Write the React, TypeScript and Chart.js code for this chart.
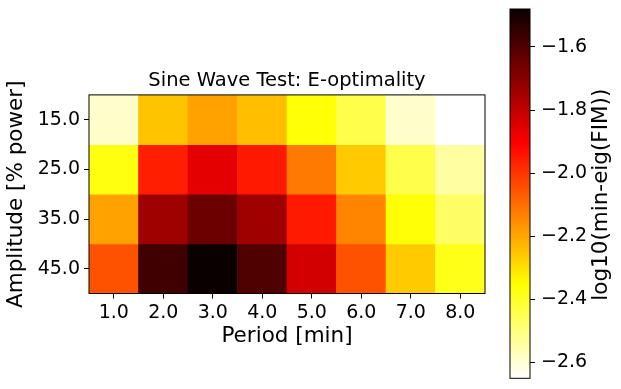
import React, { useEffect, useRef } from "react";
import { Chart, registerables } from "chart.js";
Chart.register(...registerables);

const periods = ["1.0", "2.0", "3.0", "4.0", "5.0", "6.0", "7.0", "8.0"];
const amplitudes = ["15.0", "25.0", "35.0", "45.0"];
const row15 = [-2.59, -2.25, -2.19, -2.24, -2.36, -2.44, -2.59, -2.65];
const row25 = [-2.37, -1.96, -1.86, -1.95, -2.12, -2.26, -2.44, -2.54];
const row35 = [-2.19, -1.74, -1.65, -1.74, -1.95, -2.14, -2.36, -2.47];
const row45 = [-2.05, -1.57, -1.48, -1.6, -1.83, -2.05, -2.26, -2.38];
const colorbarTicks = [-2.6, -2.4, -2.2, -2.0, -1.8, -1.6];
const titleText = "Sine Wave Test: E-optimality";
const xTitle = "Period [min]";
const yTitle = "Amplitude [% power]";
const cbTitle = "log10(min-eig(FIM))";

const FONT = "'DejaVu Sans', sans-serif";

function hot(s: number): [number, number, number] {
  const a = 0.365079, b = 0.746032;
  const r = s < a ? 0.0416 + (s / a) * (1 - 0.0416) : 1;
  const g = s < a ? 0 : s < b ? (s - a) / (b - a) : 1;
  const bl = s < b ? 0 : (s - b) / (1 - b);
  return [r, g, bl];
}
function hotR(t: number): string {
  const c = hot(1 - Math.max(0, Math.min(1, t)));
  return `rgb(${Math.round(c[0] * 255)},${Math.round(c[1] * 255)},${Math.round(c[2] * 255)})`;
}

export default function App() {
  const heatRef = useRef<HTMLCanvasElement | null>(null);
  const cbRef = useRef<HTMLCanvasElement | null>(null);

  useEffect(() => {
    const rows = [row15, row25, row35, row45];
    const all = rows.flat();
    const vmin = Math.min(...all);
    const vmax = Math.max(...all);

    const framePlugin = {
      id: "frame",
      afterDatasetsDraw(chart: any) {
        const { ctx, chartArea: a } = chart;
        ctx.save();
        ctx.strokeStyle = "#000";
        ctx.lineWidth = 1;
        ctx.strokeRect(a.left, a.top, a.right - a.left, a.bottom - a.top);
        ctx.restore();
      },
    };

    const heat = new Chart(heatRef.current as HTMLCanvasElement, {
      type: "bar",
      data: {
        labels: periods,
        datasets: rows.map((row, r) => ({
          data: row.map(() => [r, r + 1]),
          backgroundColor: row.map((v) => hotR((v - vmin) / (vmax - vmin))),
          borderWidth: 0,
          barPercentage: 1,
          categoryPercentage: 1,
          grouped: false,
        })) as any,
      },
      options: {
        animation: false,
        responsive: false,
        maintainAspectRatio: false,
        events: [],
        layout: { padding: { left: 0, top: 0, right: 136, bottom: 0 } },
        plugins: {
          legend: { display: false },
          tooltip: { enabled: false },
          title: {
            display: true,
            text: titleText,
            fullSize: false,
            color: "#000",
            font: { size: 19.5, weight: "normal", family: FONT },
            padding: { top: 69.5, bottom: 2 },
          },
        },
        scales: {
          x: {
            type: "category",
            offset: true,
            grid: {
              display: true,
              drawOnChartArea: false,
              drawTicks: true,
              tickLength: 5,
              tickColor: "#000",
              offset: false,
            },
            border: { display: false },
            ticks: { color: "#000", font: { size: 19, family: FONT }, padding: 3, maxRotation: 0 },
            title: {
              display: true,
              text: xTitle,
              color: "#000",
              font: { size: 21.5, family: FONT },
              padding: { top: 0, bottom: 40 },
            },
            afterFit: (s: any) => {
              s.height = 95.5;
              s.paddingLeft = 0;
              s.paddingRight = 0;
            },
          },
          y: {
            type: "linear",
            min: 0,
            max: amplitudes.length,
            reverse: true,
            afterBuildTicks: (s: any) => {
              s.ticks = amplitudes.map((_, i) => ({ value: i + 0.5 }));
            },
            grid: {
              display: true,
              drawOnChartArea: false,
              drawTicks: true,
              tickLength: 5,
              tickColor: "#000",
            },
            border: { display: false },
            ticks: {
              color: "#000",
              font: { size: 19, family: FONT },
              padding: 4,
              callback: (v: any) => amplitudes[Math.floor(Number(v))],
            },
            title: {
              display: true,
              text: yTitle,
              color: "#000",
              font: { size: 21.5, family: FONT },
              padding: { top: 4, bottom: 0 },
            },
            afterFit: (s: any) => {
              s.width = 89;
              s.paddingTop = 0;
              s.paddingBottom = 0;
            },
          },
        },
      } as any,
      plugins: [framePlugin],
    });

    const cbTitlePlugin = {
      id: "cbTitle",
      afterDraw(chart: any) {
        const { ctx, chartArea: a } = chart;
        ctx.save();
        ctx.fillStyle = "#000";
        ctx.font = `21.5px ${FONT}`;
        ctx.textAlign = "center";
        ctx.textBaseline = "middle";
        ctx.translate(601, (a.top + a.bottom) / 2 + 1);
        ctx.rotate(-Math.PI / 2);
        ctx.fillText(cbTitle, 0, 0);
        ctx.restore();
      },
    };

    const cb = new Chart(cbRef.current as HTMLCanvasElement, {
      type: "bar",
      data: {
        labels: [""],
        datasets: [
          {
            data: [[vmin, vmax]] as any,
            backgroundColor: (ctx: any) => {
              const a = ctx.chart.chartArea;
              if (!a) return "#000";
              const g = ctx.chart.ctx.createLinearGradient(0, a.bottom, 0, a.top);
              const N = 120;
              for (let i = 0; i <= N; i++) g.addColorStop(i / N, hotR(i / N));
              return g;
            },
            borderWidth: 0,
            barPercentage: 1,
            categoryPercentage: 1,
          },
        ],
      },
      options: {
        animation: false,
        responsive: false,
        maintainAspectRatio: false,
        events: [],
        layout: { padding: { left: 510, top: 9, right: 0, bottom: 10.7 } },
        plugins: { legend: { display: false }, tooltip: { enabled: false }, title: { display: false } },
        scales: {
          x: { display: false },
          y: {
            type: "linear",
            position: "right",
            min: vmin,
            max: vmax,
            afterBuildTicks: (s: any) => {
              s.ticks = colorbarTicks.map((v) => ({ value: v }));
            },
            grid: {
              display: true,
              drawOnChartArea: false,
              drawTicks: true,
              tickLength: 5,
              tickColor: "#000",
            },
            border: { display: false },
            ticks: {
              color: "#000",
              font: { size: 19, family: FONT },
              padding: 6,
              callback: (v: any) => Number(v).toFixed(1).replace("-", "\u2212"),
            },
            afterFit: (s: any) => {
              s.width = 91;
              s.paddingTop = 0;
              s.paddingBottom = 0;
            },
          },
        },
      } as any,
      plugins: [framePlugin, cbTitlePlugin],
    });

    return () => {
      heat.destroy();
      cb.destroy();
    };
  }, []);

  return (
    <div style={{ position: "absolute", left: 0, top: 0, width: 621, height: 389, background: "#fff" }}>
      <canvas ref={heatRef} width={621} height={389} style={{ position: "absolute", left: 0, top: 0, width: 621, height: 389 }} />
      <canvas ref={cbRef} width={621} height={389} style={{ position: "absolute", left: 0, top: 0, width: 621, height: 389 }} />
    </div>
  );
}
